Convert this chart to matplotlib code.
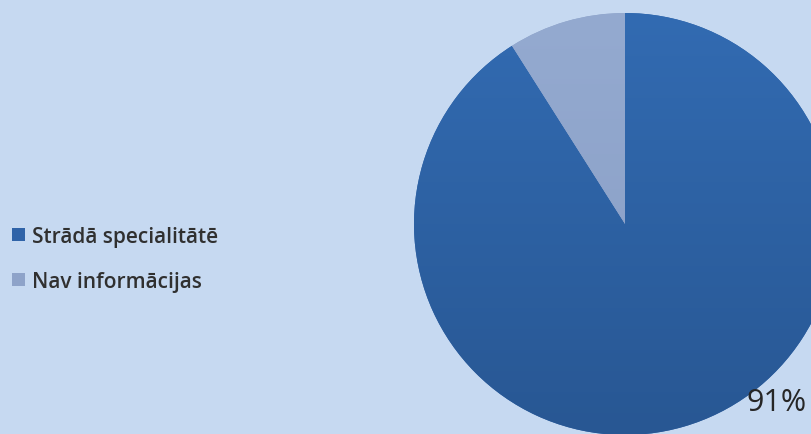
import matplotlib
matplotlib.use("Agg")
import matplotlib.pyplot as plt
import numpy as np
from matplotlib.colors import LinearSegmentedColormap
from matplotlib.patches import Rectangle

categories = ["Strādā specialitātē", "Nav informācijas"]
values = [91, 9]
pct_labels = ["91%"]

bg = "#C6D9F1"
colors = ["#2F63A8", "#8EA3C9"]

fig = plt.figure(figsize=(8.12, 4.35), dpi=100, facecolor=bg)
W, H = 812, 435
cx, cy, r = 625, 225, 211
ax = fig.add_axes([(cx - r) / W, (H - cy - r) / H, 2 * r / W, 2 * r / H])
ax.set_facecolor("none")
ax.patch.set_alpha(0)
wedges, _ = ax.pie(values, colors=colors, startangle=90, counterclock=False,
                   radius=1.0, center=(0, 0), frame=False)
ax.set_xlim(-1, 1)
ax.set_ylim(-1, 1)
ax.set_aspect("auto")
ax.axis("off")

# vertical gradient on the slices (lighter top, darker bottom)
grad = np.linspace(0, 1, 256).reshape(-1, 1)
cmap = LinearSegmentedColormap.from_list("g", ["#326BB2", "#285793"])
im = ax.imshow(grad, extent=(-1, 1, -1, 1), origin="upper", cmap=cmap,
               aspect="auto", zorder=1.5)
im.set_clip_path(wedges[0])
cmap2 = LinearSegmentedColormap.from_list("g2", ["#94AAD0", "#889DC4"])
im2 = ax.imshow(grad, extent=(-1, 1, -1, 1), origin="upper", cmap=cmap2,
                aspect="auto", zorder=1.5)
im2.set_clip_path(wedges[1])
ax.set_xlim(-1, 1)
ax.set_ylim(-1, 1)

# percentage label (placed outside, bottom right)
ax.text((777 - cx) / r, (cy - 403) / r, pct_labels[0], fontsize=22,
        color="#262626", ha="center", va="center", family="Open Sans", zorder=5)

# legend
base_y = [243, 288]
for i, (cat, col) in enumerate(zip(categories, colors)):
    fy = 1 - base_y[i] / H
    fig.patches.append(Rectangle((12 / W, fy + 1 / H), 13 / W, 13 / H,
                                 transform=fig.transFigure, facecolor=col,
                                 edgecolor="none"))
    fig.text(32 / W, fy, cat, fontsize=15, color="#303030", va="baseline",
             ha="left", family="Open Sans", fontweight="semibold")

fig.savefig("out.png", dpi=100, facecolor=bg)
